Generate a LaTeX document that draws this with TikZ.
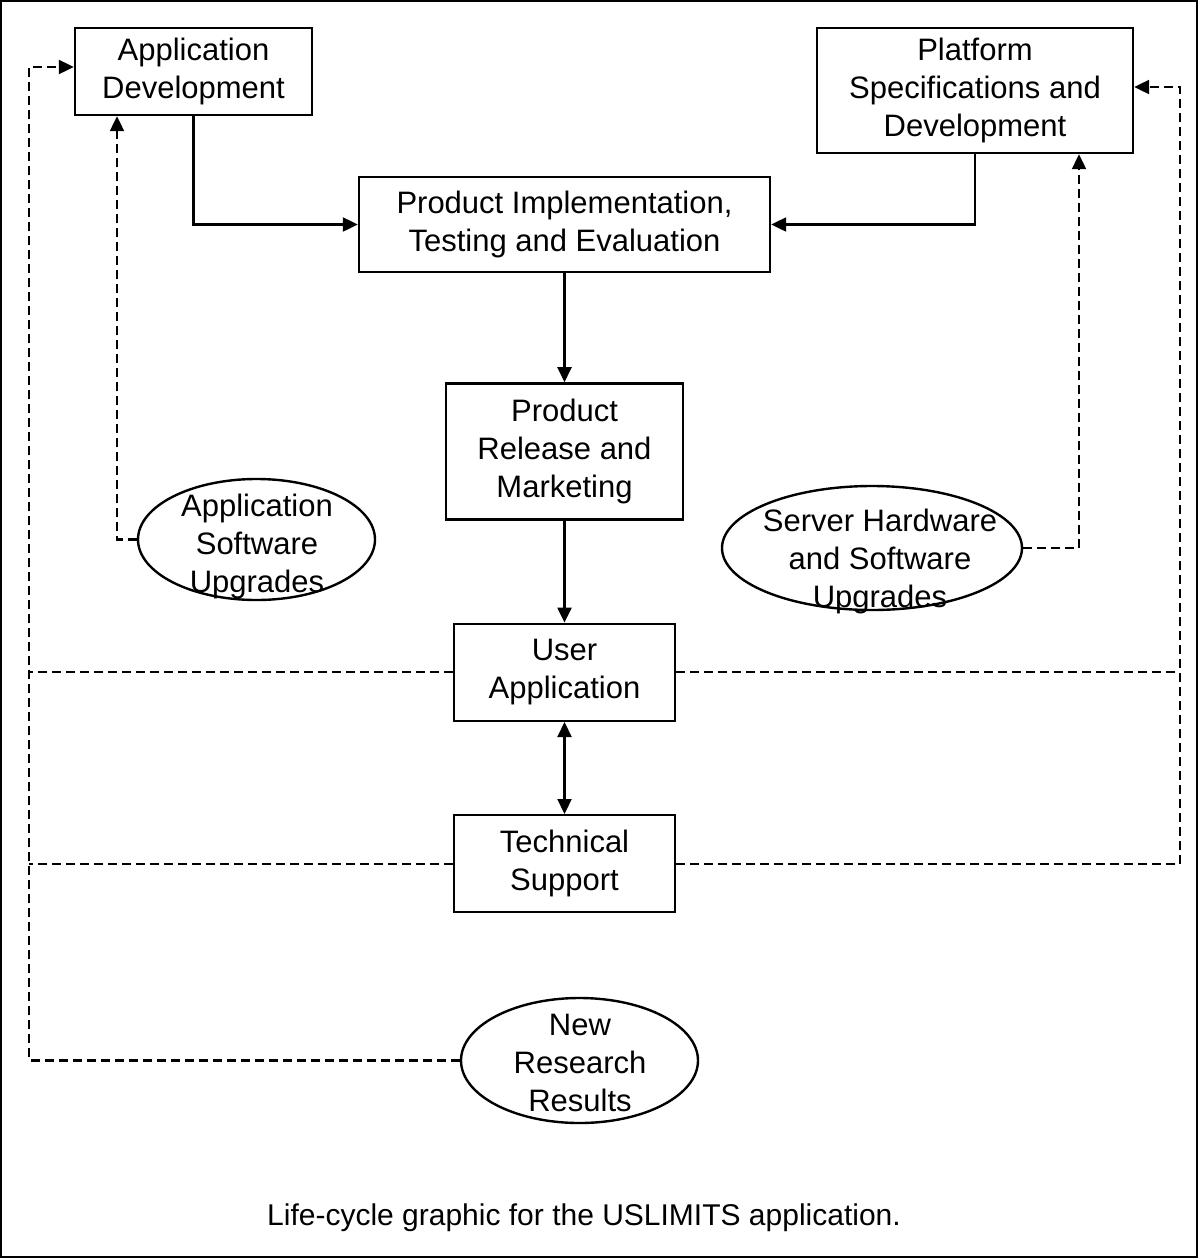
\documentclass[tikz,border=0pt]{standalone}
\usepackage{fontspec}
\setmainfont{Liberation Sans}
\usetikzlibrary{positioning}
\usetikzlibrary{arrows.meta}
\usetikzlibrary{shapes.geometric}

\begin{document}
\begin{tikzpicture}[x=1pt,y=-1pt]

\def\labfont{\fontsize{31}{38}\selectfont}
\tikzset{
  blk/.style={draw,line width=2.4pt,align=center,inner sep=0pt,font=\labfont},
  oval/.style={draw,ellipse,line width=2.4pt,inner sep=0pt},
  txt/.style={align=center,inner sep=0pt,font=\labfont},
  sline/.style={line width=2.2pt},
  dline/.style={line width=2.2pt,dash pattern=on 9pt off 5pt},
  tip/.style={-{Triangle[length=15pt,width=14pt]}}
}

\useasboundingbox (0,0) rectangle (1199,1259);
\draw[line width=2pt] (1,1) rectangle (1197,1257);

\node[blk,minimum width=237pt,minimum height=87pt] (AppDev) at (193.5,71.5) {Application\\Development};
\node[blk,minimum width=316pt,minimum height=125pt] (Platform) at (975,90.5) {Platform\\Specifications and\\Development};
\node[blk,minimum width=411pt,minimum height=95pt] (ProdImpl) at (564.5,224.5) {Product Implementation,\\Testing and Evaluation};
\node[blk,minimum width=237pt,minimum height=136pt,below=109pt of ProdImpl] (ProdRel) {Product\\Release and\\Marketing};
\node[blk,minimum width=221pt,minimum height=97pt,below=102pt of ProdRel] (UserApp) {User\\Application};
\node[blk,minimum width=221pt,minimum height=97pt,below=92pt of UserApp] (TechSup) {Technical\\Support};

\node[oval,minimum width=237pt,minimum height=121pt] (AppSW) at (256.5,539.5) {};
\node[oval,minimum width=300pt,minimum height=124pt] (Server) at (872,548) {};
\node[oval,minimum width=237pt,minimum height=125pt] (NewRes) at (579.5,1060.5) {};
\node[txt] (AppSWtext) at (257,546) {Application\\Software\\Upgrades};
\node[txt] (Servertext) at (880,561) {Server Hardware\\and Software\\Upgrades};
\node[txt] (NewRestext) at (580,1063) {New\\Research\\Results};

\node[font=\fontsize{30}{36}\selectfont] (caption) at (584,1218) {Life-cycle graphic for the USLIMITS application.};

\coordinate (lefttop) at (29,67);
\coordinate (righttop) at (1180,87);

% main flow
\draw[sline,tip] (AppDev.south) |- (ProdImpl.west);
\draw[sline,tip] (Platform.south) |- (ProdImpl.east);
\draw[sline,tip] (ProdImpl) -- (ProdRel);
\draw[sline,tip] (ProdRel) -- (UserApp);
\draw[sline,{Triangle[length=15pt,width=14pt]}-{Triangle[length=15pt,width=14pt]}] (UserApp) -- (TechSup);

% feedback
\draw[dline,tip] (AppSW.west) -| ([xshift=-76.5pt]AppDev.south);
\draw[dline,tip] (Server.east) -| ([xshift=104pt]Platform.south);
\draw[dline,tip] (NewRes.west) -| (lefttop) -- (lefttop -| AppDev.west);
\draw[dline] (UserApp.west) -- (UserApp.west -| lefttop);
\draw[dline] (TechSup.west) -- (TechSup.west -| lefttop);
\draw[dline,tip] (TechSup.east) -| (righttop) -- (righttop -| Platform.east);
\draw[dline] (UserApp.east) -- (UserApp.east -| righttop);
\end{tikzpicture}
\end{document}
